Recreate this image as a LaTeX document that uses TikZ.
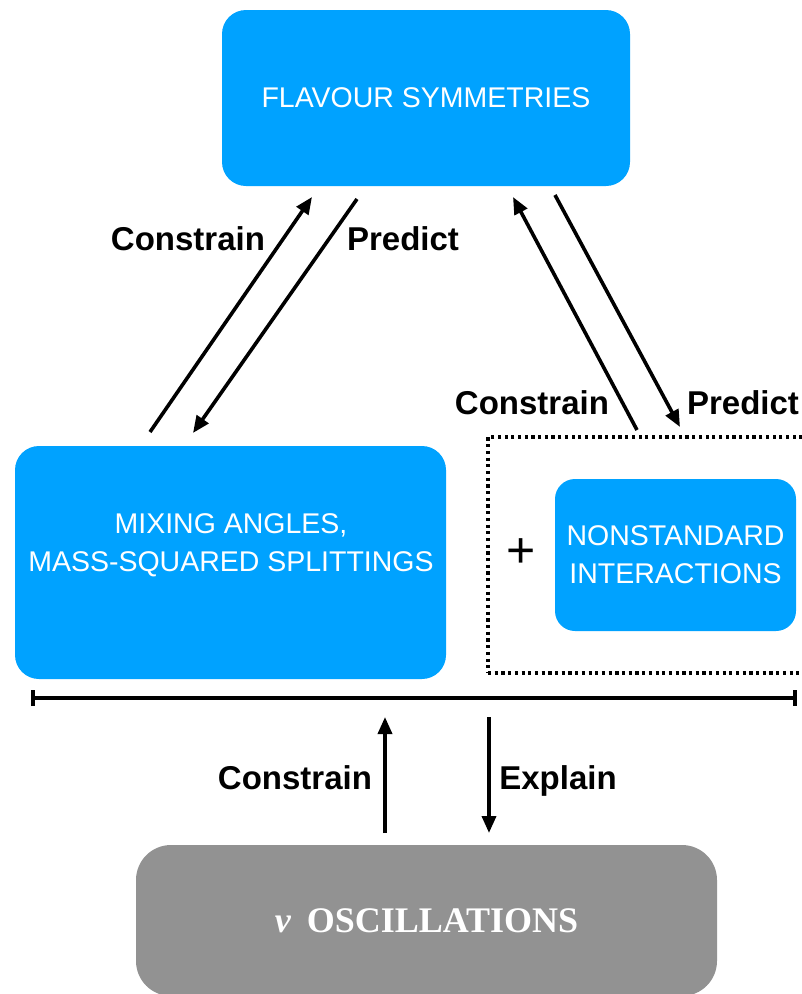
\documentclass[tikz,border=0pt]{standalone}
\usepackage{fontspec}
\setmainfont{Liberation Sans}
\newfontfamily\serifbold{Liberation Serif}
\usetikzlibrary{arrows.meta}
\definecolor{fsblue}{RGB}{0,162,255}
\definecolor{oscgray}{RGB}{146,146,146}
\begin{document}
\begin{tikzpicture}[x=1pt,y=-1pt,
  box/.style={fill=fsblue, draw=none, rounded corners=24pt, inner sep=0pt},
  boxtext/.style={text=white, font=\fontsize{28.5}{38}\selectfont, align=center},
  lab/.style={font=\fontsize{33}{38}\selectfont\bfseries, text height=24pt, text depth=0pt, inner sep=0pt},
  arr/.style={line width=3.6pt, -{Triangle[length=17pt,width=14pt]}},
]
\useasboundingbox (0,0) rectangle (802,994);
\clip (0,0) rectangle (802,994);

% boxes
\node[box, boxtext, minimum width=408pt, minimum height=176pt] (flav) at (426,98) {FLAVOUR SYMMETRIES};
\node[box, minimum width=431pt, minimum height=233pt] (mix) at (230.5,562.5) {};
\node[boxtext] (mixtext) at (231,545) {MIXING ANGLES,\\MASS-SQUARED SPLITTINGS};
\node[draw, line width=3.6pt, dash pattern=on 3.2pt off 3.5pt, minimum width=324pt, minimum height=236pt, inner sep=0pt] (ext) at (650,555) {};
\node[box, boxtext, rounded corners=20pt, minimum width=241pt, minimum height=152pt] (nsi) at (675.5,555) {NONSTANDARD\\INTERACTIONS};
\node[font=\fontsize{50}{50}\selectfont, inner sep=0pt] (plus) at (521,553) {+};
\node[fill=oscgray, rounded corners=35pt, minimum width=581pt, minimum height=151pt, inner sep=0pt, text=white, font=\serifbold\bfseries\fontsize{36}{40}\selectfont] (osc) at (426.5,920.5) {{\itshape ν}\hspace{16pt}OSCILLATIONS};

% bar
\coordinate (barL) at (31,698);
\coordinate (barR) at (797,698);
\draw[line width=3.6pt, {Bar[width=16pt]}-{Bar[width=16pt]}] (barL) -- (barR);

% arrow end points
\coordinate (c1a) at (150,432); \coordinate (c1b) at (312,197);
\coordinate (p1a) at (357,199); \coordinate (p1b) at (193,433);
\coordinate (c2a) at (637,430); \coordinate (c2b) at (513,197);
\coordinate (p2a) at (555,195); \coordinate (p2b) at (680,427);
\coordinate (c3a) at (385,833); \coordinate (c3b) at (385,717);
\coordinate (e3a) at (489,717); \coordinate (e3b) at (489,833);

\draw[arr] (c1a) -- (c1b);
\draw[arr] (p1a) -- (p1b);
\draw[arr] (c2a) -- (c2b);
\draw[arr] (p2a) -- (p2b);
\draw[arr] (c3a) -- (c3b);
\draw[arr] (e3a) -- (e3b);

% labels
\node[lab] (l1) at (188,238) {Constrain};
\node[lab] (l2) at (403,238) {Predict};
\node[lab] (l3) at (532,402) {Constrain};
\node[lab] (l4) at (743,402) {Predict};
\node[lab] (l5) at (295,777) {Constrain};
\node[lab] (l6) at (558,777) {Explain};
\end{tikzpicture}
\end{document}
